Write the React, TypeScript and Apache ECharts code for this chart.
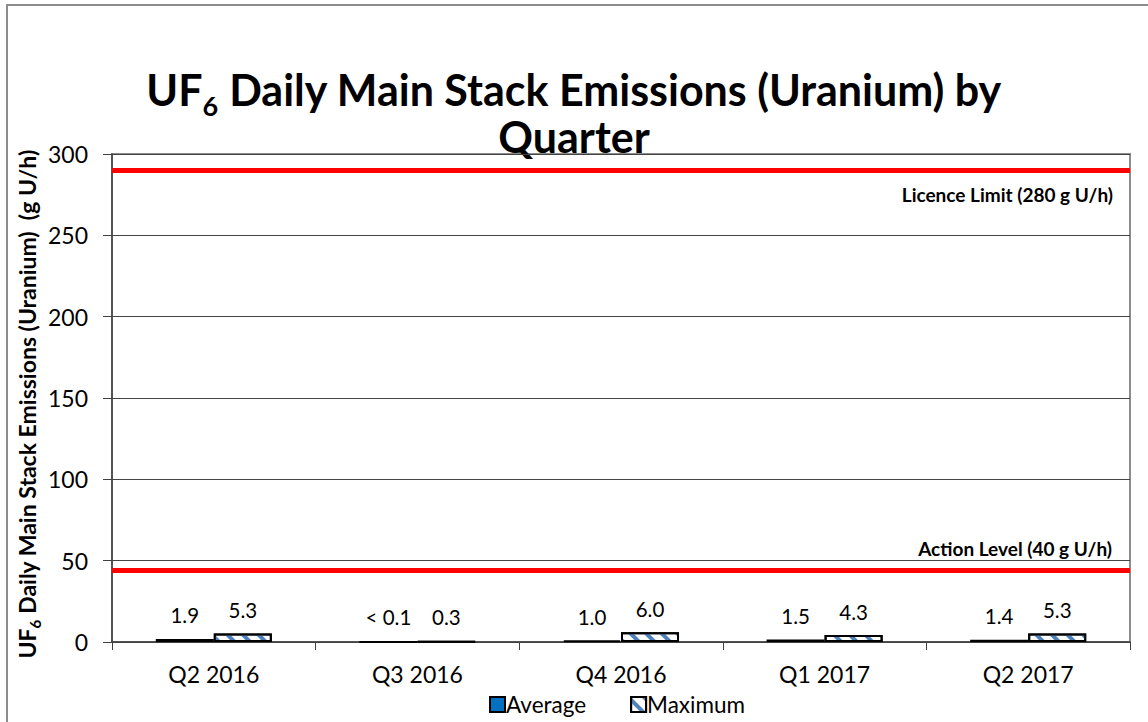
import React, { useEffect, useRef } from "react";
import * as echarts from "echarts";

const categories = ["Q2 2016", "Q3 2016", "Q4 2016", "Q1 2017", "Q2 2017"];
const averageValues = [1.9, 0.05, 1.0, 1.5, 1.4];
const maximumValues = [5.3, 0.3, 6.0, 4.3, 5.3];
const licenceLimitLine = 290;
const actionLevelLine = 44;
const yMin = 0;
const yMax = 300;
const yInterval = 50;
const licenceLabel = "Licence Limit (280 g U/h)";
const actionLabel = "Action Level (40 g U/h)";

const FONT = 'Lato, "Open Sans", "Liberation Sans", sans-serif';

export default function App() {
  const ref = useRef<HTMLDivElement>(null);
  useEffect(() => {
    document.body.style.margin = "0";
    const chart = echarts.init(ref.current!, null, { renderer: "svg" });
    const labelFmt = (p: any) => (p.value < 0.1 ? "< 0.1" : Number(p.value).toFixed(1));
    chart.setOption({
      animation: false,
      backgroundColor: "#ffffff",
      textStyle: { fontFamily: FONT },
      grid: {
        left: 112,
        right: 18,
        top: 154,
        bottom: 80,
        show: true,
        borderColor: "#8c8c8c",
        borderWidth: 2,
        backgroundColor: "transparent",
      },
      legend: {
        left: 484,
        top: 688,
        itemWidth: 15,
        itemHeight: 15,
        itemGap: 44,
        icon: "rect",
        textStyle: { fontSize: 22.5, color: "#000", fontFamily: FONT, padding: [0, 0, 0, -4] },
        data: ["Average", "Maximum"],
      },
      xAxis: {
        type: "category",
        data: categories,
        boundaryGap: true,
        axisLine: { lineStyle: { color: "#404040", width: 1.5 } },
        axisTick: { show: true, length: 8, alignWithLabel: false, lineStyle: { color: "#404040" } },
        axisLabel: { fontSize: 23, color: "#000", margin: 20, fontFamily: FONT },
      },
      yAxis: {
        type: "value",
        min: yMin,
        max: yMax,
        interval: yInterval,
        axisLine: { show: true, lineStyle: { color: "#404040", width: 1.5 } },
        axisTick: { show: true, length: 9, lineStyle: { color: "#404040" } },
        axisLabel: { fontSize: 23, color: "#000", margin: 24, fontFamily: FONT },
        splitLine: { show: true, lineStyle: { color: "#444", width: 1 } },
      },
      series: [
        {
          name: "Average",
          type: "bar",
          data: averageValues,
          barGap: "0%",
          barCategoryGap: "43%",
          itemStyle: { color: "#0070C0", borderColor: "#000", borderWidth: 2 },
          label: { show: true, position: "top", distance: 13, fontSize: 20.5, color: "#000", formatter: labelFmt, fontFamily: FONT },
          markLine: {
            silent: true,
            symbol: "none",
            lineStyle: { color: "#FF0000", width: 5, type: "solid" },
            data: [
              {
                yAxis: licenceLimitLine,
                label: {
                  show: true,
                  position: "insideEndBottom",
                  formatter: licenceLabel,
                  fontSize: 19,
                  fontWeight: "bold",
                  color: "#000",
                  distance: [17, 15],
                  fontFamily: FONT,
                },
              },
              {
                yAxis: actionLevelLine,
                label: {
                  show: true,
                  position: "insideEndTop",
                  formatter: actionLabel,
                  fontSize: 19,
                  fontWeight: "bold",
                  color: "#000",
                  distance: [18, 12],
                  fontFamily: FONT,
                },
              },
            ],
          },
        },
        {
          name: "Maximum",
          type: "bar",
          data: maximumValues,
          barGap: "0%",
          barCategoryGap: "43%",
          itemStyle: {
            color: "#ffffff",
            borderColor: "#000",
            borderWidth: 2,
            decal: {
              symbol: "rect",
              symbolSize: 1,
              color: "#4F81BD",
              backgroundColor: "#ffffff",
              dashArrayX: [1, 0],
              dashArrayY: [4, 7],
              rotation: Math.PI / 4,
            },
          },
          label: { show: true, position: "top", distance: 13, fontSize: 20.5, color: "#000", formatter: labelFmt, fontFamily: FONT },
        },
      ],
      graphic: [
        {
          type: "polyline",
          silent: true,
          shape: { points: [[7, 722], [7, 5], [1148, 5]] },
          style: { stroke: "#8c8c8c", lineWidth: 2, fill: "none" },
        },
        {
          type: "text",
          x: 574,
          y: 89,
          style: {
            text: "{a|UF}{s|6}{a| Daily Main Stack Emissions (Uranium) by}",
            align: "center",
            verticalAlign: "middle",
            fill: "#000",
            rich: {
              a: { fontSize: 43, fontWeight: "bold", fontFamily: FONT, fill: "#000" },
              s: { fontSize: 27, fontWeight: "bold", fontFamily: FONT, padding: [33, 0, 0, 0], fill: "#000" },
            },
          },
        },
        {
          type: "text",
          x: 574,
          y: 136,
          style: {
            text: "Quarter",
            align: "center",
            verticalAlign: "middle",
            fill: "#000",
            fontSize: 43,
            fontWeight: "bold",
            fontFamily: FONT,
          },
        },
        {
          type: "text",
          x: 27,
          y: 404,
          rotation: Math.PI / 2,
          style: {
            text: "{a|UF}{s|6}{a| Daily Main Stack Emissions (Uranium)  (g U/h)}",
            align: "center",
            verticalAlign: "middle",
            fill: "#000",
            rich: {
              a: { fontSize: 23, fontWeight: "bold", fontFamily: FONT, fill: "#000" },
              s: { fontSize: 15, fontWeight: "bold", fontFamily: FONT, padding: [16, 0, 0, 0], fill: "#000" },
            },
          },
        },
      ],
    });
    return () => chart.dispose();
  }, []);
  return <div ref={ref} style={{ width: 1148, height: 722 }} />;
}
